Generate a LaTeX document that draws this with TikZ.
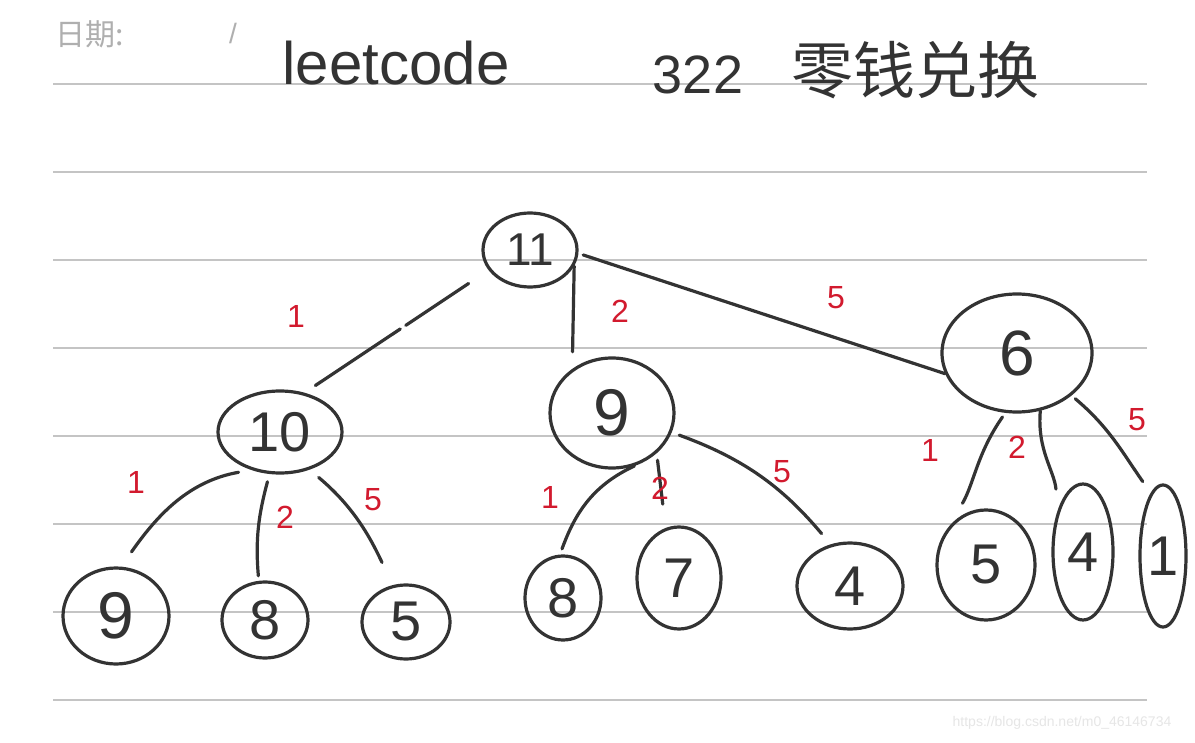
\documentclass[tikz,border=0pt]{standalone}
\usepackage{fontspec}
\newfontfamily\cjk{Noto Sans CJK SC}
\newfontfamily\hand{Liberation Sans}
\usetikzlibrary{shapes.geometric,calc}
\definecolor{ink}{HTML}{333333}
\definecolor{redink}{HTML}{D21A2E}
\definecolor{rulecol}{HTML}{C4C4C4}
\definecolor{dategray}{HTML}{AFAFAF}
\definecolor{wmgray}{HTML}{E6E6E6}
\begin{document}
\begin{tikzpicture}[x=1pt,y=-1pt,
  tnode/.style={ellipse,draw=ink,line width=3.2pt,inner sep=0pt,text=ink,
    font=\hand\fontsize{56}{56}\selectfont},
  edge/.style={draw=ink,line width=3.2pt,line cap=round},
  wlabel/.style={text=redink,font=\hand\fontsize{32}{32}\selectfont},
  ruling/.style={draw=rulecol,line width=1.3pt}]
\fill[white] (0,0) rectangle (1195,743);
\useasboundingbox (0,0) rectangle (1195,743);
\foreach \yy in {84,172,260,348,436,524,612,700} \draw[ruling] (53,\yy) -- (1147,\yy);

% header
\node[text=dategray,font=\cjk\fontsize{30}{30}\selectfont,anchor=west] (date) at (52,34) {日期:};
\node[text=dategray,font=\hand\fontsize{28}{28}\selectfont] (slash) at (233,33) {/};
\node[text=ink,font=\hand\fontsize{60}{60}\selectfont] (title) at (396,63) {leetcode};
\node[text=ink,font=\hand\fontsize{54}{54}\selectfont] (num) at (698,75) {322};
\node[text=ink,font=\cjk\fontsize{62}{62}\selectfont] (cn) at (915,70) {零钱兑换};
\node[text=wmgray,font=\hand\fontsize{14}{14}\selectfont] (wm) at (1062,723) {https://blog.csdn.net/m0\_46146734};

% tree nodes
\node[tnode,minimum width=94pt,minimum height=74pt,font=\hand\fontsize{46}{46}\selectfont] (n11) at (530,250) {11};
\node[tnode,minimum width=124pt,minimum height=82pt] (n10) at (280,432) {10};
\node[tnode,minimum width=124pt,minimum height=110pt,font=\hand\fontsize{66}{66}\selectfont] (n9) at (612,413) {9};
\node[tnode,minimum width=150pt,minimum height=118pt,font=\hand\fontsize{64}{64}\selectfont] (n6) at (1017,353) {6};
\node[tnode,minimum width=106pt,minimum height=96pt,font=\hand\fontsize{66}{66}\selectfont] (l9) at (116,616) {9};
\node[tnode,minimum width=86pt,minimum height=76pt] (l8) at (265,620) {8};
\node[tnode,minimum width=88pt,minimum height=74pt] (l5) at (406,622) {5};
\node[tnode,minimum width=76pt,minimum height=84pt] (m8) at (563,598) {8};
\node[tnode,minimum width=84pt,minimum height=102pt] (m7) at (679,578) {7};
\node[tnode,minimum width=106pt,minimum height=86pt] (m4) at (850,586) {4};
\node[tnode,minimum width=98pt,minimum height=110pt] (r5) at (986,565) {5};
\node[tnode,minimum width=60pt,minimum height=136pt] (r4) at (1083,552) {4};
\node[tnode,minimum width=46pt,minimum height=142pt] (r1) at (1163,556) {1};

% connectors
\draw[edge,shorten <=24pt] (n11.206) -- ($(n11.206)!0.45!(n10.58)$);
\draw[edge,shorten >=13pt] ($(n11.206)!0.48!(n10.58)$) -- (n10.58);
\draw[edge,shorten >=17pt] (n11.340) -- (n9.132);
\draw[edge,shorten <=5pt] (n11.356) -- (n6.196);

\draw[edge,shorten <=13pt,shorten >=18pt] (n10.233) to[out=190,in=55] (l9.84);
\draw[edge,shorten <=8pt,shorten >=5pt] (n10.256) to[out=255,in=95] (l8.99);
\draw[edge,shorten <=12pt,shorten >=25pt] (n10.308) to[out=-40,in=115] (l5.110);

\draw[edge,shorten >=6pt] (n9.293) to[out=205,in=70] (m8.94);
\draw[edge,shorten <=7pt,shorten >=24pt] (n9.318) -- (m7.105);
\draw[edge,shorten <=8pt,shorten >=14pt] (n9.342) to[out=-20,in=130] (m4.115);

\draw[edge,shorten <=5pt,shorten >=26pt] (n6.259) to[out=235,in=60] (r5.133);
\draw[edge,shorten >=21pt] (n6.292) to[out=265,in=95] (r4.121);
\draw[edge,shorten <=5pt,shorten >=14pt] (n6.322) to[out=-40,in=125] (r1.101);

% weights
\node[wlabel] (w11a) at (296,316) {1};
\node[wlabel] (w11b) at (620,311) {2};
\node[wlabel] (w11c) at (836,298) {5};
\node[wlabel] (w10a) at (136,482) {1};
\node[wlabel] (w10b) at (285,517) {2};
\node[wlabel] (w10c) at (373,500) {5};
\node[wlabel] (w9a) at (550,497) {1};
\node[wlabel] (w9b) at (660,488) {2};
\node[wlabel] (w9c) at (782,472) {5};
\node[wlabel] (w6a) at (930,450) {1};
\node[wlabel] (w6b) at (1017,447) {2};
\node[wlabel] (w6c) at (1137,420) {5};
\end{tikzpicture}
\end{document}
